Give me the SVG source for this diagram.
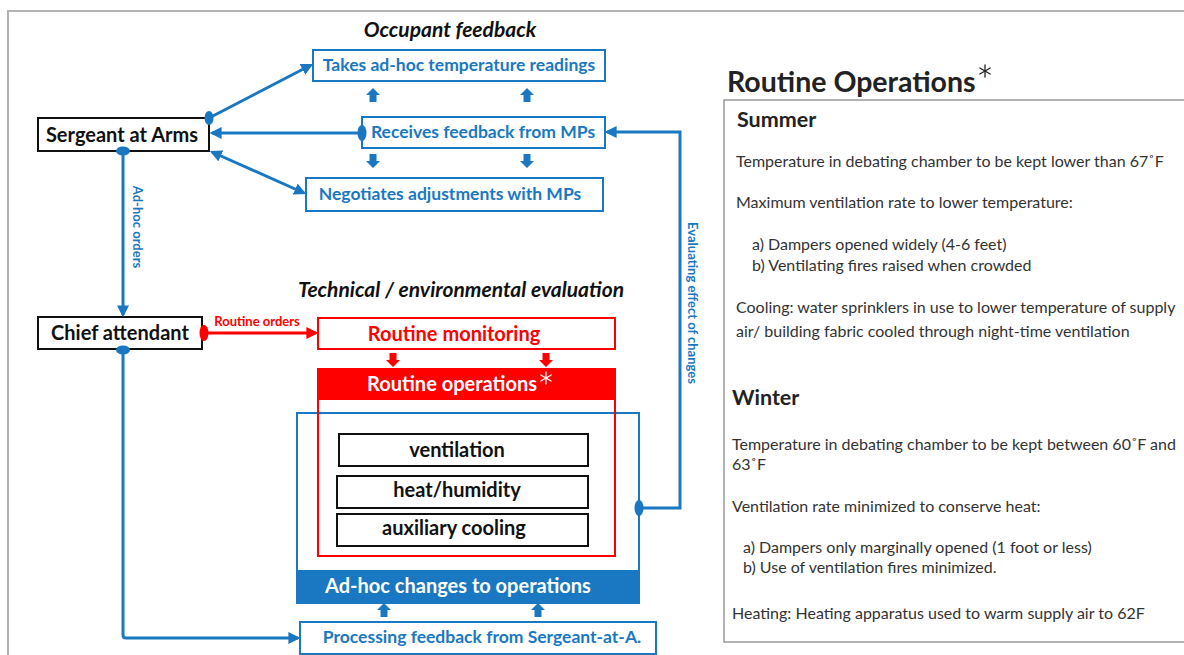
<svg xmlns="http://www.w3.org/2000/svg" width="1184" height="655" viewBox="0 0 1184 655">
<style>
  text { font-family: Lato, "Open Sans", "Liberation Sans", sans-serif; }
  .title { font-size: 21px; font-weight: bold; font-style: italic; fill: #111; text-anchor: middle; }
  .bbox { fill: #fff; stroke: #1a78c2; stroke-width: 2; }
  .btxt { font-size: 17.5px; font-weight: bold; fill: #1a78c2; text-anchor: middle; }
  .kbox { fill: #fff; stroke: #111; stroke-width: 2; }
  .ktxt { font-size: 20px; font-weight: bold; fill: #111; text-anchor: middle; }
  .rbox { fill: #fff; stroke: #ff0000; stroke-width: 2; }
  .rtxt { font-size: 20px; font-weight: bold; fill: #ff0000; text-anchor: middle; }
  .wtxt { font-size: 20px; font-weight: bold; fill: #fff; text-anchor: middle; }
  .bline { fill: none; stroke: #1a78c2; stroke-width: 3; }
  .rline { fill: none; stroke: #ff0000; stroke-width: 3; }
  .lbl { font-size: 13px; font-weight: bold; fill: #1a78c2; text-anchor: middle; }
  .p { font-size: 16px; fill: #333; }
  .h { font-size: 21.5px; font-weight: bold; fill: #222; }
</style>
<defs>
  <marker id="ab" viewBox="0 0 10 10" refX="8" refY="5" markerWidth="12" markerHeight="12" markerUnits="userSpaceOnUse" orient="auto-start-reverse">
    <path d="M0,0 L10,5 L0,10 z" fill="#1a78c2"/>
  </marker>
  <marker id="ar" viewBox="0 0 10 10" refX="8" refY="5" markerWidth="12" markerHeight="12" markerUnits="userSpaceOnUse" orient="auto">
    <path d="M0,0 L10,5 L0,10 z" fill="#ff0000"/>
  </marker>
  <path id="up" d="M0,-7 L7,0 L3.5,0 L3.5,7 L-3.5,7 L-3.5,0 L-7,0 Z"/>
  <g id="star" stroke-width="1.3" stroke-linecap="round">
    <line x1="0" y1="-6" x2="0" y2="6"/>
    <line x1="-5.2" y1="-3" x2="5.2" y2="3"/>
    <line x1="-5.2" y1="3" x2="5.2" y2="-3"/>
  </g>
</defs>

<rect width="1184" height="655" fill="#fff"/>
<rect x="8" y="11" width="1190" height="660" fill="none" stroke="#b3b3b3" stroke-width="2"/>

<!-- section titles -->
<text class="title" x="450" y="37">Occupant feedback</text>
<text class="title" x="461" y="297">Technical / environmental evaluation</text>

<!-- occupant feedback nodes -->
<g id="takes">
  <rect class="bbox" x="313" y="50" width="292" height="31"/>
  <text class="btxt" x="459" y="71">Takes ad-hoc temperature readings</text>
</g>
<g id="receives">
  <rect class="bbox" x="362" y="117" width="243" height="31"/>
  <text class="btxt" x="483" y="138">Receives feedback from MPs</text>
</g>
<g id="negotiates">
  <rect class="bbox" x="306" y="178" width="297" height="33"/>
  <text class="btxt" x="450" y="200">Negotiates adjustments with MPs</text>
</g>
<g id="fb-arrows" fill="#1a78c2">
  <use href="#up" x="373" y="95"/>
  <use href="#up" x="527" y="95"/>
  <use href="#up" transform="translate(373,161) rotate(180)"/>
  <use href="#up" transform="translate(527,161) rotate(180)"/>
</g>

<!-- actors -->
<g id="sergeant">
  <rect class="kbox" x="38" y="118" width="171" height="33"/>
  <text class="ktxt" x="122" y="142">Sergeant at Arms</text>
</g>
<g id="chief">
  <rect class="kbox" x="38" y="317" width="164" height="32"/>
  <text class="ktxt" x="120" y="340">Chief attendant</text>
</g>

<!-- technical evaluation -->
<g id="adhoc-changes">
  <rect x="297" y="413" width="342" height="190" fill="none" stroke="#1a78c2" stroke-width="2"/>
  <rect x="297" y="570" width="342" height="33" fill="#1a78c2"/>
  <text class="wtxt" x="458" y="593">Ad-hoc changes to operations</text>
</g>
<g id="routine-operations">
  <rect x="318" y="369" width="297" height="187" fill="none" stroke="#ff0000" stroke-width="2"/>
  <rect x="318" y="369" width="297" height="31" fill="#ff0000"/>
  <text class="wtxt" x="452" y="391">Routine operations</text>
  <use href="#star" x="546" y="378" stroke="#fff"/>
</g>
<g id="routine-monitoring">
  <rect class="rbox" x="318" y="318" width="297" height="31"/>
  <text class="rtxt" x="454" y="341">Routine monitoring</text>
</g>
<g id="rm-arrows" fill="#ff0000">
  <use href="#up" transform="translate(393,360) rotate(180)"/>
  <use href="#up" transform="translate(546,360) rotate(180)"/>
</g>
<g id="ventilation">
  <rect class="kbox" x="339" y="434" width="249" height="32"/>
  <text class="ktxt" x="457" y="457">ventilation</text>
</g>
<g id="heat">
  <rect class="kbox" x="337" y="476" width="251" height="32"/>
  <text class="ktxt" x="457" y="497">heat/humidity</text>
</g>
<g id="cooling">
  <rect class="kbox" x="337" y="514" width="251" height="32"/>
  <text class="ktxt" x="454" y="535">auxiliary cooling</text>
</g>
<g id="pf-arrows" fill="#1a78c2">
  <use href="#up" x="384" y="610"/>
  <use href="#up" x="538" y="610"/>
</g>
<g id="processing">
  <rect class="bbox" x="300" y="622" width="356" height="32"/>
  <text class="btxt" x="482" y="643">Processing feedback from Sergeant-at-A.</text>
</g>

<!-- connectors -->
<g id="connectors">
  <line class="bline" x1="209" y1="118" x2="311" y2="65" marker-end="url(#ab)"/>
  <ellipse cx="209" cy="118" rx="4.5" ry="7" fill="#1a78c2"/>
  <line class="bline" x1="362" y1="133" x2="212" y2="133" marker-end="url(#ab)"/>
  <ellipse cx="362" cy="133" rx="4.5" ry="8" fill="#1a78c2"/>
  <line class="bline" x1="212" y1="152" x2="304" y2="193" marker-start="url(#ab)" marker-end="url(#ab)"/>
  <line class="bline" x1="123" y1="151" x2="123" y2="315" marker-end="url(#ab)"/>
  <ellipse cx="123" cy="151" rx="7" ry="4.5" fill="#1a78c2"/>
  <text class="lbl" transform="translate(133,227) rotate(90)">Ad-hoc orders</text>
  <line class="rline" x1="204" y1="333" x2="316" y2="333" marker-end="url(#ar)"/>
  <ellipse cx="204" cy="333" rx="4.5" ry="8" fill="#ff0000"/>
  <text x="257" y="326" font-size="13" font-weight="bold" fill="#ff0000" text-anchor="middle">Routine orders</text>
  <path class="bline" d="M123,350 V635 Q123,638 126,638 H298" marker-end="url(#ab)"/>
  <ellipse cx="123" cy="350" rx="7" ry="4.5" fill="#1a78c2"/>
  <path class="bline" d="M639,508 H680 V132 H607" marker-end="url(#ab)"/>
  <ellipse cx="639" cy="508" rx="4.5" ry="8" fill="#1a78c2"/>
  <text class="lbl" transform="translate(688,303) rotate(90)">Evaluating effect of changes</text>
</g>

<!-- right panel -->
<g id="routine-panel">
  <text x="727" y="92" font-size="28.5" font-weight="bold" fill="#222">Routine Operations</text>
  <use href="#star" x="985" y="71" stroke="#222"/>
  <rect x="724" y="100" width="470" height="542" fill="#fff" stroke="#999" stroke-width="1.5"/>
  <text class="h" x="737" y="127">Summer</text>
  <text class="p" x="736" y="167">Temperature in debating chamber to be kept lower than 67˚F</text>
  <text class="p" x="736" y="208">Maximum ventilation rate to lower temperature:</text>
  <text class="p" x="752" y="250">a) Dampers opened widely (4-6 feet)</text>
  <text class="p" x="752" y="271">b) Ventilating fires raised when crowded</text>
  <text class="p" x="736" y="313">Cooling: water sprinklers in use to lower temperature of supply</text>
  <text class="p" x="736" y="337">air/ building fabric cooled through night-time ventilation</text>
  <text class="h" x="732" y="405">Winter</text>
  <text class="p" x="732" y="450">Temperature in debating chamber to be kept between 60˚F and</text>
  <text class="p" x="732" y="470">63˚F</text>
  <text class="p" x="732" y="512">Ventilation rate minimized to conserve heat:</text>
  <text class="p" x="743" y="553">a) Dampers only marginally opened (1 foot or less)</text>
  <text class="p" x="743" y="573">b) Use of ventilation fires minimized.</text>
  <text class="p" x="732" y="619">Heating: Heating apparatus used to warm supply air to 62F</text>
</g>
</svg>
